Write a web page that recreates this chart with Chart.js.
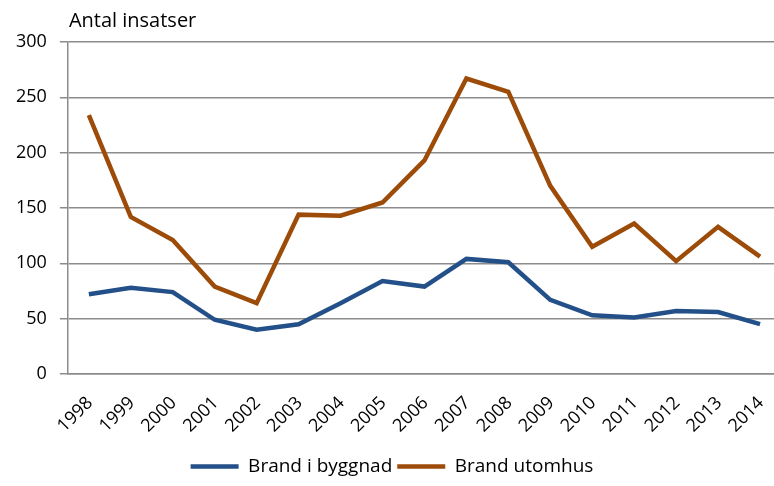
<!DOCTYPE html>
<html>
<head>
<meta charset="utf-8">
<script src="https://cdn.jsdelivr.net/npm/chart.js@4"></script>
<style>
  html, body { margin: 0; padding: 0; background: #fff; overflow: hidden; }
  #wrap { width: 774px; height: 486px; overflow: hidden; }
</style>
</head>
<body>
<div id="wrap"><canvas id="chart" width="781" height="486"></canvas></div>
<script>
const years = ['1998', '1999', '2000', '2001', '2002', '2003', '2004', '2005', '2006', '2007', '2008', '2009', '2010', '2011', '2012', '2013', '2014']
const byggnad = [72, 78, 74, 49, 40, 45, 64, 84, 79, 104, 101, 67, 53, 51, 57, 56, 45]
const utomhus = [234, 142, 121, 79, 64, 144, 143, 155, 193, 267, 255, 170, 115, 136, 102, 133, 106]
const yTicks = [0, 50, 100, 150, 200, 250, 300]

const FONT = "'Open Sans', 'Liberation Sans', sans-serif"

// unit label above the y axis + rotated year labels under the x axis
const extraText = {
  id: 'extraText',
  afterDraw(chart) {
    const { ctx, chartArea } = chart
    const xs = chart.scales.x
    ctx.save()
    ctx.fillStyle = '#000'
    ctx.font = `20px ${FONT}`
    ctx.textBaseline = 'alphabetic'
    ctx.textAlign = 'left'
    ctx.fillText('Antal insatser', chartArea.left + 1, 27)

    ctx.font = `18px ${FONT}`
    ctx.textAlign = 'right'
    ctx.textBaseline = 'middle'
    years.forEach((y, i) => {
      ctx.save()
      ctx.translate(xs.getPixelForValue(i) + 1, chartArea.bottom + 26)
      ctx.rotate(-Math.PI / 4)
      ctx.fillText(y, 0, 0)
      ctx.restore()
    })
    ctx.restore()
  }
}

new Chart(document.getElementById('chart'), {
  type: 'line',
  data: {
    labels: years,
    datasets: [
      { label: 'Brand i byggnad', data: byggnad, borderColor: '#24508a', backgroundColor: '#24508a', borderWidth: 4.5, pointRadius: 0, tension: 0 },
      { label: 'Brand utomhus', data: utomhus, borderColor: '#9c4b08', backgroundColor: '#9c4b08', borderWidth: 4.5, pointRadius: 0, tension: 0 }
    ]
  },
  plugins: [extraText],
  options: {
    responsive: false,
    animation: false,
    layout: { padding: { top: 42, right: 0, left: 3, bottom: 0 } },
    plugins: {
      legend: {
        position: 'bottom',
        labels: {
          font: { family: FONT, size: 19 },
          color: '#000',
          boxWidth: 48,
          boxHeight: 0,
          padding: 5,
          generateLabels(chart) {
            return chart.data.datasets.map((d, i) => ({
              text: d.label, strokeStyle: d.borderColor, fillStyle: d.borderColor,
              lineWidth: 4.5, lineCap: 'round', datasetIndex: i, fontColor: '#000'
            }))
          }
        }
      },
      tooltip: { enabled: false }
    },
    scales: {
      x: {
        offset: true,
        grid: { display: false, drawTicks: false },
        border: { color: '#8c8c8c', width: 1.5 },
        ticks: { display: false, autoSkip: false },
        afterFit(axis) {
          axis.height = 78
          axis.paddingLeft = 0
          axis.paddingRight = 0
        }
      },
      y: {
        min: 0, max: 300,
        afterBuildTicks(axis) { axis.ticks = yTicks.map(v => ({ value: v })) },
        grid: { color: '#8c8c8c', lineWidth: 1.5, tickLength: 8 },
        border: { color: '#8c8c8c', width: 1.5 },
        ticks: { color: '#000', font: { family: FONT, size: 18 }, padding: 13 }
      }
    }
  }
})
</script>
</body>
</html>
